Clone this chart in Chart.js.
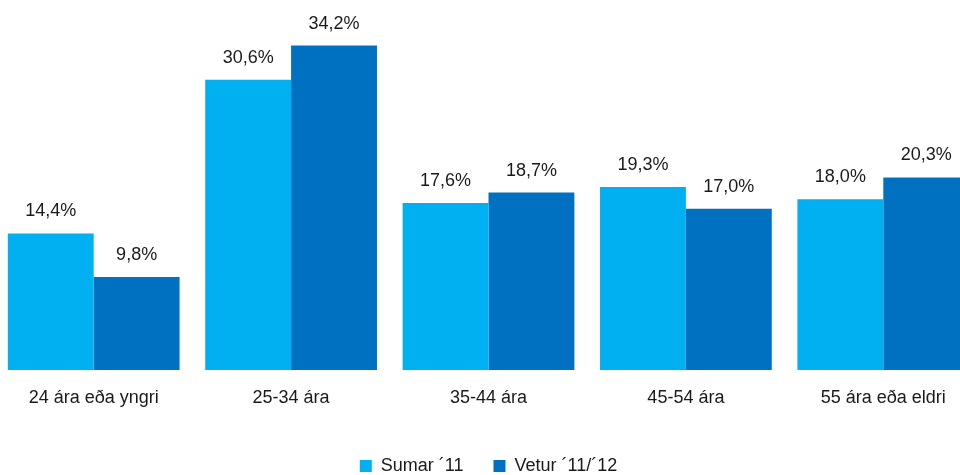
<!DOCTYPE html>
<html>
<head>
<meta charset="utf-8">
<script src="https://cdn.jsdelivr.net/npm/chart.js@4/dist/chart.umd.min.js"></script>
<style>
  html, body { margin: 0; padding: 0; background: #fff; overflow: hidden; }
  #wrap { position: absolute; left: -5px; top: 0; width: 987px; height: 485px; }
</style>
</head>
<body>
<div id="wrap"><canvas id="c"></canvas></div>
<script>
// age groups and the two survey periods
const categories = ["24 ára eða yngri", "25-34 ára", "35-44 ára", "45-54 ára", "55 ára eða eldri"];
const sumar = [14.4, 30.6, 17.6, 19.3, 18.0];
const vetur = [9.8, 34.2, 18.7, 17.0, 20.3];
const seriesNames = ["Sumar ´11", "Vetur ´11/´12"];

const FONT = "'Liberation Sans Narrow', 'Arial Narrow', 'Liberation Sans', Arial, sans-serif";

// draws the "14,4%" labels over the bars
const valueLabels = {
  id: "valueLabels",
  afterDatasetsDraw(chart) {
    const ctx = chart.ctx;
    ctx.save();
    ctx.font = "18px " + FONT;
    ctx.fillStyle = "#1a1a1a";
    ctx.textAlign = "center";
    ctx.textBaseline = "alphabetic";
    chart.data.datasets.forEach((ds, i) => {
      chart.getDatasetMeta(i).data.forEach((bar, j) => {
        const txt = ds.data[j].toFixed(1).replace(".", ",") + "%";
        ctx.fillText(txt, bar.x, bar.y - 17);
      });
    });
    ctx.restore();
  },
};

new Chart(document.getElementById("c"), {
  type: "bar",
  data: {
    labels: categories,
    datasets: [
      { label: seriesNames[0], data: sumar, backgroundColor: "#00B0F0" },
      { label: seriesNames[1], data: vetur, backgroundColor: "#0070C0" },
    ],
  },
  options: {
    responsive: true,
    maintainAspectRatio: false,
    animation: false,
    layout: { padding: 0 },
    datasets: { bar: { categoryPercentage: 0.87, barPercentage: 1.0 } },
    scales: {
      x: {
        grid: { display: false, drawTicks: false },
        border: { display: false },
        ticks: { color: "#1a1a1a", font: { family: FONT, size: 18 }, padding: 17 },
        afterFit(scale) { scale.height = 57; },
      },
      y: {
        display: false,
        min: 0,
        max: 39,
      },
    },
    plugins: {
      tooltip: { enabled: false },
      legend: {
        position: "bottom",
        labels: {
          boxWidth: 12,
          boxHeight: 12,
          padding: 30,
          color: "#1a1a1a",
          font: { family: FONT, size: 18 },
        },
      },
    },
  },
  plugins: [valueLabels],
});
</script>
</body>
</html>
